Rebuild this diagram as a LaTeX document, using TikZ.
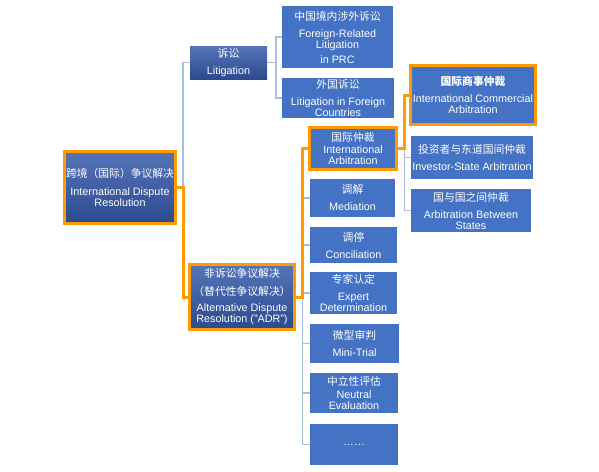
\documentclass[tikz,border=0pt]{standalone}
\usepackage{fontspec}
\setmainfont{Liberation Sans}
\newfontfamily\zh{Noto Sans CJK SC}
\usetikzlibrary{positioning}
\definecolor{bblue}{HTML}{4472C4}
\definecolor{dtop}{HTML}{5674B8}
\definecolor{dbot}{HTML}{2B4A8F}
\definecolor{morange}{HTML}{FF9A00}
\definecolor{lline}{HTML}{AABDE2}
\tikzset{box/.style = {fill=bblue, text=white, align=center, inner sep=0,
                       font=\fontsize{10.8}{11}\selectfont}}
\tikzset{dark/.style = {box, top color=dtop, bottom color=dbot}}
\tikzset{pick/.style = {draw=morange, line width=3}}
\tikzset{conn/.style = {lline, line width=1.5}}
\tikzset{hl/.style = {morange, line width=3}}
\begin{document}
\begin{tikzpicture}[x=1pt, y=-1pt]
    \useasboundingbox [fill=white] (0, 0) rectangle (599, 471);

    \node [dark, pick, minimum width=111, minimum height=72] (root) at (120, 187.5)
        {{\zh 跨境（国际）争议解决}\\[7pt]International Dispute\\Resolution};

    \node [dark, minimum width=77, minimum height=33] (lit) at (228.5, 62.5)
        {{\zh 诉讼}\\[6pt]Litigation};
    \node [box, minimum width=111, minimum height=62] (frl) at (337.5, 37)
        {{\zh 中国境内涉外诉讼}\\[6pt]Foreign-Related\\Litigation\\[4pt]in PRC};
    \node [box, minimum width=112, minimum height=40] (lfc) at (338, 98)
        {{\zh 外国诉讼}\\[6pt]Litigation in Foreign\\Countries};

    \node [dark, pick, minimum width=105, minimum height=65] (adr) at (242, 297)
        {{\zh 非诉讼争议解决}\\[7pt]{\zh （替代性争议解决）}\\[5pt]Alternative Dispute\\Resolution ("ADR")};

    \node [box, pick, minimum width=87, minimum height=42] (iarb) at (353, 148.5)
        {{\zh 国际仲裁}\\[1pt]International\\Arbitration};
    \node [box, minimum width=85, minimum height=38] (med) at (352.5, 198)
        {{\zh 调解}\\[6pt]Mediation};
    \node [box, minimum width=87, minimum height=36] (con) at (353.5, 245)
        {{\zh 调停}\\[6pt]Conciliation};
    \node [box, minimum width=87, minimum height=42] (exp) at (353.5, 293)
        {{\zh 专家认定}\\[6pt]Expert\\Determination};
    \node [box, minimum width=89, minimum height=39] (mini) at (354.5, 343.5)
        {{\zh 微型审判}\\[6pt]Mini-Trial};
    \node [box, minimum width=88, minimum height=40] (neu) at (354, 393)
        {{\zh 中立性评估}\\[1.5pt]Neutral\\Evaluation};
    \node [box, minimum width=88, minimum height=41] (dots) at (354, 444.5)
        {……};

    \node [box, pick, minimum width=125, minimum height=59] (ica) at (473, 95)
        {{\zh\bfseries 国际商事仲裁}\\[6pt]International Commercial\\Arbitration};
    \node [box, minimum width=122, minimum height=43] (isa) at (472, 157.5)
        {{\zh 投资者与东道国间仲裁}\\[6pt]Investor-State Arbitration};
    \node [box, minimum width=120, minimum height=43] (abs) at (471, 210.5)
        {{\zh 国与国之间仲裁}\\[6pt]Arbitration Between\\States};

    \draw [conn] (root.east) -- ++(6, 0) |- (lit.west);
    \draw [conn] (lit.east) -- ++(9, 0) |- (frl.west);
    \draw [conn] (lit.east) -- ++(9, 0) |- (lfc.west);
    \foreach \n in {med, con, exp, mini, neu, dots}
        \draw [conn] (adr.east) -- ++(6.5, 0) |- (\n.west);
    \foreach \n in {isa, abs}
        \draw [conn] (iarb.east) -- ++(6.5, 0) |- (\n.west);

    \draw [hl] (root.east) -- ++(6, 0) |- (adr.west);
    \draw [hl] (adr.east) -- ++(6.5, 0) |- (iarb.west);
    \draw [hl] (iarb.east) -- ++(6.5, 0) |- (ica.west);
\end{tikzpicture}
\end{document}
